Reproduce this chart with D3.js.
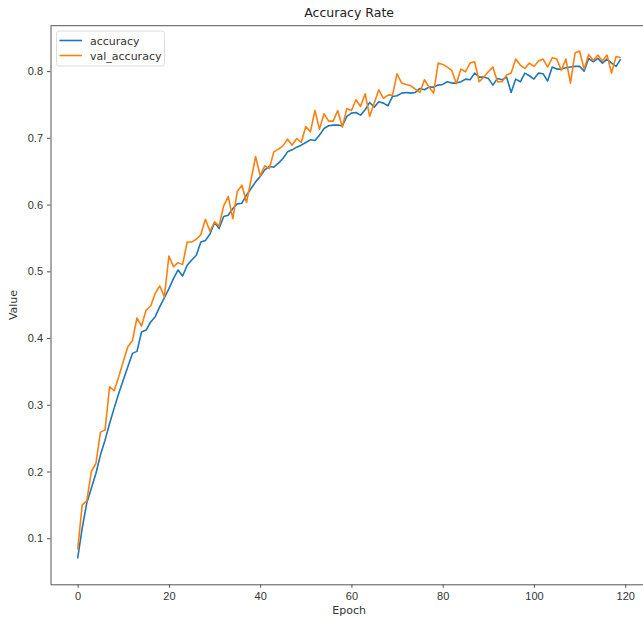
<!DOCTYPE html>
<html lang="en">
<head>
<meta charset="UTF-8">
<title>Accuracy Rate</title>
<script src="https://d3js.org/d3.v7.min.js"></script>
<style>
  body { margin: 0; background: #fff; }
  svg { display: block; font-family: 'DejaVu Sans', sans-serif; }
  .tick text { fill: #333; font-size: 11px; }
  .tick line { stroke: #555; }
  .domain { stroke: #555; }
</style>
</head>
<body>
<div id="chart"></div>
<script>
// values
const accuracy = [
  0.070, 0.115, 0.153, 0.175, 0.197, 0.225, 0.247, 0.272, 0.295, 0.317,
  0.337, 0.357, 0.377, 0.380, 0.409, 0.412, 0.424, 0.432, 0.447, 0.460,
  0.474, 0.489, 0.502, 0.493, 0.509, 0.517, 0.524, 0.544, 0.546, 0.556,
  0.573, 0.564, 0.582, 0.584, 0.594, 0.601, 0.602, 0.614, 0.624, 0.634,
  0.642, 0.652, 0.657, 0.656, 0.662, 0.669, 0.679, 0.682, 0.686, 0.689,
  0.693, 0.697, 0.696, 0.704, 0.714, 0.718, 0.719, 0.719, 0.718, 0.732,
  0.737, 0.738, 0.734, 0.742, 0.753, 0.746, 0.754, 0.752, 0.748, 0.762,
  0.763, 0.767, 0.768, 0.767, 0.768, 0.774, 0.772, 0.776, 0.776, 0.779,
  0.780, 0.784, 0.782, 0.782, 0.784, 0.788, 0.787, 0.797, 0.791, 0.791,
  0.789, 0.779, 0.789, 0.787, 0.791, 0.768, 0.788, 0.784, 0.797, 0.793,
  0.788, 0.797, 0.796, 0.785, 0.806, 0.803, 0.803, 0.805, 0.806, 0.807,
  0.807, 0.800, 0.819, 0.814, 0.819, 0.812, 0.818, 0.812, 0.807, 0.818
];
const valAccuracy = [
  0.083, 0.150, 0.156, 0.200, 0.212, 0.259, 0.262, 0.327, 0.321, 0.342,
  0.365, 0.387, 0.396, 0.430, 0.418, 0.442, 0.448, 0.467, 0.478, 0.462,
  0.523, 0.507, 0.513, 0.510, 0.544, 0.544, 0.548, 0.555, 0.578, 0.560,
  0.574, 0.568, 0.598, 0.612, 0.579, 0.620, 0.629, 0.603, 0.637, 0.672,
  0.643, 0.658, 0.654, 0.679, 0.683, 0.688, 0.698, 0.689, 0.699, 0.693,
  0.717, 0.709, 0.741, 0.713, 0.736, 0.725, 0.725, 0.741, 0.716, 0.744,
  0.741, 0.757, 0.747, 0.766, 0.732, 0.752, 0.772, 0.759, 0.764, 0.764,
  0.796, 0.782, 0.780, 0.778, 0.773, 0.768, 0.787, 0.776, 0.767, 0.812,
  0.810, 0.806, 0.801, 0.781, 0.803, 0.799, 0.812, 0.814, 0.784, 0.791,
  0.799, 0.806, 0.784, 0.784, 0.794, 0.797, 0.818, 0.809, 0.804, 0.812,
  0.807, 0.815, 0.818, 0.806, 0.820, 0.818, 0.801, 0.818, 0.782, 0.827,
  0.830, 0.803, 0.825, 0.816, 0.824, 0.815, 0.824, 0.797, 0.822, 0.820
];
const epochs = accuracy.map((d, i) => i);
const xTicks = [0, 20, 40, 60, 80, 100, 120];
const yTicks = [0.1, 0.2, 0.3, 0.4, 0.5, 0.6, 0.7, 0.8];
const seriesNames = ["accuracy", "val_accuracy"];
const colors = ["#1f77b4", "#ff7f0e"];

const width = 643, height = 617;
const box = { left: 50.5, top: 25.7, right: 647.8, bottom: 584.3 };

const svg = d3.select("#chart").append("svg")
  .attr("width", width)
  .attr("height", height);

const x = d3.scaleLinear().domain([-5.95, 124.95]).range([box.left, box.right]);
const y = d3.scaleLinear().domain([0.031, 0.868]).range([box.bottom, box.top]);

// axes
svg.append("g")
  .attr("transform", `translate(0,${box.bottom})`)
  .call(d3.axisBottom(x).tickValues(xTicks).tickSize(3.5).tickPadding(4).tickSizeOuter(0))
  .call(g => g.selectAll("text").attr("dy", "0.75em"));

svg.append("g")
  .attr("transform", `translate(${box.left},0)`)
  .call(d3.axisLeft(y).tickValues(yTicks).tickFormat(d3.format(".1f")).tickSize(3.5).tickPadding(4).tickSizeOuter(0));

// top spine
svg.append("line")
  .attr("x1", box.left).attr("x2", box.right)
  .attr("y1", box.top).attr("y2", box.top)
  .attr("stroke", "#555");

// lines
const line = d3.line()
  .x((d, i) => x(epochs[i]))
  .y(d => y(d));

[accuracy, valAccuracy].forEach((series, k) => {
  svg.append("path")
    .datum(series)
    .attr("fill", "none")
    .attr("stroke", colors[k])
    .attr("stroke-width", 1.6)
    .attr("stroke-linejoin", "round")
    .attr("d", line);
});

// title and labels
svg.append("text")
  .attr("x", (box.left + box.right) / 2).attr("y", 17)
  .attr("text-anchor", "middle")
  .attr("font-size", 12.5).attr("fill", "#222")
  .text("Accuracy Rate");

svg.append("text")
  .attr("x", (box.left + box.right) / 2).attr("y", 614)
  .attr("text-anchor", "middle")
  .attr("font-size", 11).attr("fill", "#333")
  .text("Epoch");

svg.append("text")
  .attr("transform", `translate(17,${(box.top + box.bottom) / 2}) rotate(-90)`)
  .attr("text-anchor", "middle")
  .attr("font-size", 11).attr("fill", "#333")
  .text("Value");

// legend
const legend = svg.append("g");
legend.append("rect")
  .attr("x", 56.5).attr("y", 31).attr("width", 108).attr("height", 35)
  .attr("rx", 2.5)
  .attr("fill", "#fff").attr("fill-opacity", 0.8)
  .attr("stroke", "#ddd");

seriesNames.forEach((name, k) => {
  const ly = 40.5 + k * 15;
  legend.append("line")
    .attr("x1", 59.5).attr("x2", 82)
    .attr("y1", ly).attr("y2", ly)
    .attr("stroke", colors[k]).attr("stroke-width", 1.6);
  legend.append("text")
    .attr("x", 90).attr("y", ly + 4)
    .attr("font-size", 11).attr("fill", "#333")
    .text(name);
});
</script>
</body>
</html>
